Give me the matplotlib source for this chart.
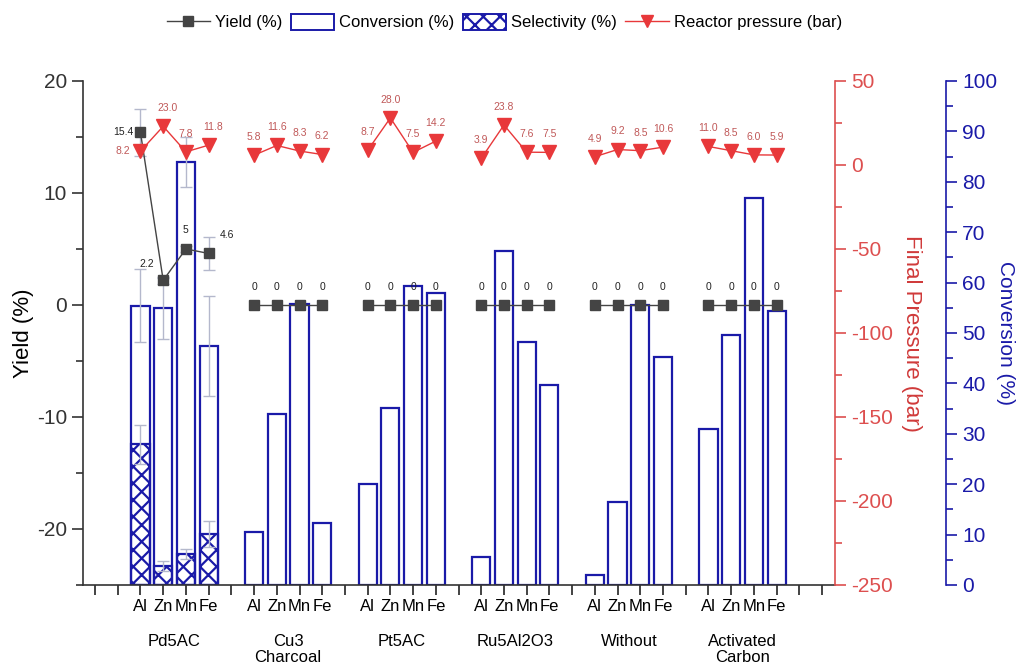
import numpy as np
import matplotlib
matplotlib.use("Agg")
import matplotlib.pyplot as plt
from matplotlib.lines import Line2D
from matplotlib.patches import Patch
from matplotlib.ticker import MultipleLocator

plt.rcParams['font.family'] = ['Liberation Sans', 'DejaVu Sans']
plt.rcParams['axes.unicode_minus'] = False
plt.rcParams['hatch.linewidth'] = 1.6

# ---------------- data ----------------
groups = ["Pd5AC", "Cu3\nCharcoal", "Pt5AC", "Ru5Al2O3", "Without", "Activated\nCarbon"]
metals = ["Al", "Zn", "Mn", "Fe"]

yield_pct = [15.4, 2.2, 5.0, 4.6,
             0, 0, 0, 0,
             0, 0, 0, 0,
             0, 0, 0, 0,
             0, 0, 0, 0,
             0, 0, 0, 0]
yield_err_pd = [2.1, 0.3, 0.3, 1.45]

conversion = [55.4, 54.9, 83.9, 47.4,
              10.6, 33.9, 55.7, 12.2,
              20.1, 35.2, 59.4, 58.0,
              5.5, 66.3, 48.3, 39.6,
              1.9, 16.4, 55.6, 45.2,
              31.0, 49.6, 76.7, 54.4]
conversion_err_pd = [7.2, 6.0, 5.0, 10.0]

selectivity_pd = [27.9, 3.8, 6.1, 10.1]
selectivity_err_pd = [3.8, 1.0, 1.0, 2.5]

pressure = [8.2, 23.0, 7.8, 11.8,
            5.8, 11.6, 8.3, 6.2,
            8.7, 28.0, 7.5, 14.2,
            3.9, 23.8, 7.6, 7.5,
            4.9, 9.2, 8.5, 10.6,
            11.0, 8.5, 6.0, 5.9]

# ---------------- styles ----------------
BLUE = '#1a1aa8'
RED_AX = '#dd4f4f'
RED_MK = '#e8383a'
RED_TXT = '#c05858'
GREY = '#444444'
ERR = '#b4b8cc'

n_m = len(metals)
pos = np.array([3 + 5 * g + m for g in range(len(groups)) for m in range(n_m)])

fig = plt.figure(figsize=(10.21, 6.68), dpi=100)
ax = fig.add_axes([0.0813, 0.1243, 0.7365, 0.7545])
axc = ax.twinx()
axp = ax.twinx()
axc.set_zorder(1)
ax.set_zorder(2)
axp.set_zorder(3)
ax.patch.set_visible(False)
axp.patch.set_visible(False)
axc.patch.set_visible(False)

# conversion & selectivity bars
axc.bar(pos, conversion, width=0.8, facecolor='none', edgecolor=BLUE, lw=1.6, zorder=2)
axc.bar(pos[:n_m], selectivity_pd, width=0.8, facecolor='none', edgecolor=BLUE,
        lw=1.6, hatch='xx', zorder=2)
axc.errorbar(pos[:n_m], conversion[:n_m], yerr=conversion_err_pd, fmt='none',
             ecolor=ERR, elinewidth=1.0, capsize=4, capthick=1.0, zorder=3)
axc.errorbar(pos[:n_m], selectivity_pd, yerr=selectivity_err_pd, fmt='none',
             ecolor=ERR, elinewidth=1.0, capsize=4, capthick=1.0, zorder=3)

# yield
ax.errorbar(pos[:n_m], yield_pct[:n_m], yerr=yield_err_pd, fmt='none',
            ecolor=ERR, elinewidth=1.0, capsize=4, capthick=1.0, zorder=2)
for g in range(len(groups)):
    sl = slice(g * n_m, (g + 1) * n_m)
    ax.plot(pos[sl], yield_pct[sl], '-s', color=GREY, ms=7, lw=1.0, zorder=3)
    axp.plot(pos[sl], pressure[sl], '-v', color=RED_MK, mec=RED_MK, ms=9.5,
             lw=1.0, zorder=3)

# yield labels
yoff = [(-12, 0), (-12, 12), (0, 14), (13, 13)]
for i, (x, v) in enumerate(zip(pos, yield_pct)):
    dx, dy = yoff[i] if i < n_m else (0, 13)
    ax.annotate(f"{v:g}", (x, v), xytext=(dx, dy), textcoords='offset points',
                ha='center', va='center', fontsize=7.5, color='#222222')

# pressure labels
poff = [(-13, 0), (3, 13), (0, 13), (3, 13)]
for i, (x, v) in enumerate(zip(pos, pressure)):
    dx, dy = poff[i] if i < n_m else (0, 13)
    axp.annotate(f"{v:.1f}", (x, v), xytext=(dx, dy), textcoords='offset points',
                 ha='center', va='center', fontsize=7.5, color=RED_TXT)

# ---------------- axes ----------------
ax.set_xlim(0.47, 33.57)
ax.set_ylim(-25, 20)
axp.set_ylim(-250, 50)
axc.set_ylim(0, 100)

ticks = np.arange(1, 34)
ax.set_xticks(ticks)
lab = {p: metals[i % n_m] for i, p in enumerate(pos)}
ax.set_xticklabels([lab.get(t, '') for t in ticks], fontsize=12)
ax.tick_params(axis='x', direction='out', length=7, width=1.2, color='#222222', pad=3)

for g, name in enumerate(groups):
    c = pos[g * n_m:(g + 1) * n_m].mean()
    ax.annotate(name, (c, 0), xycoords=ax.get_xaxis_transform(), xytext=(0, -35),
                textcoords='offset points', ha='center', va='top', fontsize=12,
                linespacing=1.1)

ax.yaxis.set_major_locator(MultipleLocator(10))
ax.yaxis.set_minor_locator(MultipleLocator(5))
ax.tick_params(axis='y', which='major', direction='out', length=8, width=1.2,
               labelsize=15, colors='#333333')
ax.tick_params(axis='y', which='minor', direction='out', length=5, width=1.2, color='#333333')
ax.set_ylabel('Yield (%)', fontsize=16, labelpad=2)

for s in ['top', 'right']:
    ax.spines[s].set_visible(False)
for s in ['left', 'bottom']:
    ax.spines[s].set_color('#333333')
    ax.spines[s].set_linewidth(1.2)

for a in (axc, axp):
    for s in ['top', 'left', 'bottom']:
        a.spines[s].set_visible(False)

axp.spines['right'].set_color(RED_AX)
axp.spines['right'].set_linewidth(1.2)
axp.yaxis.set_major_locator(MultipleLocator(50))
axp.yaxis.set_minor_locator(MultipleLocator(25))
axp.tick_params(axis='y', which='major', direction='out', length=8, width=1.2,
                labelsize=15, colors=RED_AX)
axp.tick_params(axis='y', which='minor', direction='out', length=5, width=1.2, color=RED_AX)
axp.set_ylabel('Final Pressure (bar)', fontsize=16, color='#d03a3a', rotation=270,
               va='bottom', labelpad=6)

axc.spines['right'].set_position(('outward', 80))
axc.spines['right'].set_color(BLUE)
axc.spines['right'].set_linewidth(1.2)
axc.yaxis.set_major_locator(MultipleLocator(10))
axc.yaxis.set_minor_locator(MultipleLocator(5))
axc.tick_params(axis='y', which='major', direction='out', length=8, width=1.2,
                labelsize=15, colors=BLUE)
axc.tick_params(axis='y', which='minor', direction='out', length=5, width=1.2, color=BLUE)
axc.set_ylabel('Conversion (%)', fontsize=15, color=BLUE, rotation=270,
               va='bottom', labelpad=-1)

# ---------------- legend ----------------
handles = [
    Line2D([], [], color=GREY, marker='s', ms=7, lw=1.0),
    Patch(facecolor='white', edgecolor=BLUE, lw=1.4),
    Patch(facecolor='white', edgecolor=BLUE, lw=1.4, hatch='xx'),
    Line2D([], [], color=RED_MK, marker='v', ms=9, lw=1.0),
]
labels = ['Yield (%)', 'Conversion (%)', 'Selectivity (%)', 'Reactor pressure (bar)']
fig.legend(handles, labels, loc='center', bbox_to_anchor=(0.494, 0.967), ncol=4,
           frameon=False, fontsize=12, handlelength=2.6, handletextpad=0.3,
           columnspacing=0.5, handleheight=1.1, borderaxespad=0)

fig.savefig('out.png', dpi=100)
